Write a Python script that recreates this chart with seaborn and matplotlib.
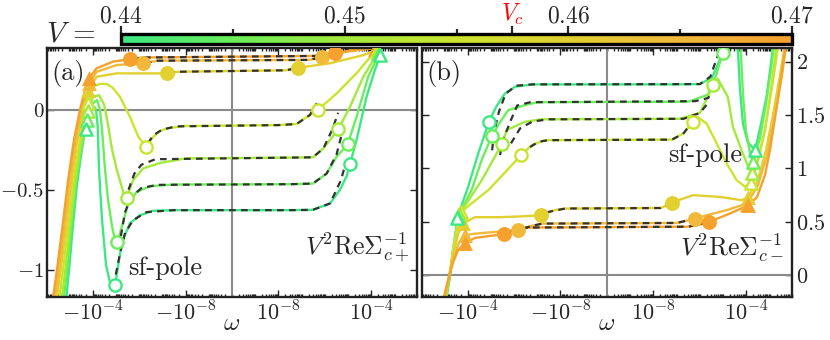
"""
plot.py

V^2 Re Sigma^{-1} for the two channels (c+, c-) against omega on a
two-sided log axis, one curve per hybridisation V, with the colour bar on top.
"""

import numpy as np
import pandas as pd
import matplotlib
matplotlib.use('Agg')
import matplotlib.pyplot as plt
from matplotlib.colors import LinearSegmentedColormap, Normalize
from matplotlib.cm import ScalarMappable
from matplotlib.ticker import FixedLocator
import seaborn as sns


V_VALUES = [0.44, 0.445, 0.45, 0.455, 0.46, 0.465, 0.47]
V_C = 0.4575
V_COLORS = ['#3de884', '#6aee5a', '#a2ea3c', '#cbe42e', '#e2d030', '#f0b93a', '#f6a02e']
CB_MAJOR = [0.44, 0.45, 0.46, 0.47]
CB_MINOR = [0.445, 0.455, 0.465]

# ---- panel (a): V^2 Re Sigma_{c+}^{-1}, (omega, value) per V ----
A_CURVES = [
    [(-10**-2.84, -1.22), (-10**-2.99, -1.0), (-10**-3.14, -0.75), (-10**-3.33, -0.47), (-10**-3.51, -0.28),
     (-10**-3.63, -0.17), (-10**-3.72, -0.124), (-10**-3.9, -0.03), (-10**-4.05, 0.02), (-10**-4.15, 0.0),
     (-10**-4.22, -0.1), (-10**-4.28, -0.378), (-10**-4.41, -0.69), (-10**-4.58, -0.97), (-10**-4.75, -1.078),
     (-10**-4.97, -1.097), (-10**-5.26, -0.83), (-10**-5.61, -0.71), (-10**-6.04, -0.66), (-10**-6.6, -0.632),
     (-10**-7.5, -0.628), (10**-7.5, -0.628), (10**-6.52, -0.626), (10**-5.78, -0.586), (10**-5.35, -0.5),
     (10**-5.07, -0.417), (10**-4.92, -0.34), (10**-4.64, -0.19), (10**-4.21, 0.08), (10**-3.85, 0.247),
     (10**-3.63, 0.34), (10**-3.5, 0.42)],
    [(-10**-2.73, -1.22), (-10**-2.91, -1.0), (-10**-3.08, -0.75), (-10**-3.28, -0.47), (-10**-3.47, -0.28),
     (-10**-3.63, -0.15), (-10**-3.75, -0.066), (-10**-3.98, 0.034), (-10**-4.19, 0.06), (-10**-4.32, 0.0),
     (-10**-4.41, -0.128), (-10**-4.54, -0.378), (-10**-4.67, -0.566), (-10**-4.83, -0.72), (-10**-4.94, -0.8),
     (-10**-5.07, -0.826), (-10**-5.26, -0.73), (-10**-5.54, -0.586), (-10**-5.9, -0.514), (-10**-6.48, -0.478),
     (-10**-7.5, -0.468), (10**-7.5, -0.466), (10**-6.52, -0.462), (10**-5.93, -0.40), (10**-5.5, -0.295),
     (10**-5.02, -0.216), (10**-4.64, -0.045), (10**-4.14, 0.205), (10**-3.68, 0.345), (10**-3.5, 0.43)],
    [(-10**-2.64, -1.22), (-10**-2.83, -1.0), (-10**-3.02, -0.75), (-10**-3.24, -0.46), (-10**-3.45, -0.26),
     (-10**-3.63, -0.11), (-10**-3.79, -0.009), (-10**-4.02, 0.078), (-10**-4.28, 0.09), (-10**-4.5, 0.03),
     (-10**-4.67, -0.097), (-10**-4.84, -0.25), (-10**-5.05, -0.378), (-10**-5.26, -0.484), (-10**-5.35, -0.528),
     (-10**-5.47, -0.549), (-10**-5.75, -0.44), (-10**-6.18, -0.367), (-10**-6.92, -0.333), (-10**-8.0, -0.305),
     (10**-7.5, -0.30), (10**-6.52, -0.298), (10**-6.07, -0.243), (10**-5.43, -0.124), (10**-4.92, 0.018),
     (10**-4.35, 0.205), (10**-3.73, 0.355), (10**-3.55, 0.43)],
    [(-10**-2.53, -1.22), (-10**-2.73, -1.0), (-10**-2.94, -0.75), (-10**-3.17, -0.46), (-10**-3.39, -0.25),
     (-10**-3.6, -0.08), (-10**-3.82, 0.043), (-10**-4.03, 0.145), (-10**-4.32, 0.16), (-10**-4.61, 0.16),
     (-10**-4.88, 0.134), (-10**-5.18, 0.08), (-10**-5.61, -0.045), (-10**-5.97, -0.17), (-10**-6.3, -0.233),
     (-10**-6.62, -0.17), (-10**-6.9, -0.134), (-10**-7.19, -0.118), (-10**-7.91, -0.103), (10**-8.0, -0.097),
     (10**-7.22, -0.09), (10**-6.65, -0.034), (10**-6.29, 0.0), (10**-5.5, 0.1), (10**-4.64, 0.227),
     (10**-3.92, 0.35), (10**-3.78, 0.365), (10**-3.6, 0.43)],
    [(-10**-2.43, -1.22), (-10**-2.63, -1.0), (-10**-2.85, -0.75), (-10**-3.09, -0.45), (-10**-3.32, -0.22),
     (-10**-3.55, -0.05), (-10**-3.7, 0.05), (-10**-3.82, 0.122), (-10**-4.18, 0.205), (-10**-5.04, 0.226),
     (-10**-6.05, 0.226), (-10**-7.19, 0.226), (-10**-7.7, 0.236), (10**-7.7, 0.245), (10**-7.15, 0.261),
     (10**-5.78, 0.289), (10**-4.35, 0.34), (10**-3.8, 0.37), (10**-3.6, 0.40)],
    [(-10**-2.34, -1.22), (-10**-2.55, -1.0), (-10**-2.77, -0.75), (-10**-3.02, -0.44), (-10**-3.26, -0.2),
     (-10**-3.5, -0.02), (-10**-3.7, 0.09), (-10**-3.86, 0.164), (-10**-4.18, 0.236), (-10**-5.04, 0.278),
     (-10**-6.19, 0.289), (-10**-6.8, 0.305), (10**-6.7, 0.31), (10**-6.14, 0.326), (10**-5.07, 0.361),
     (10**-4.06, 0.38), (10**-3.82, 0.385)],
    [(-10**-2.26, -1.22), (-10**-2.47, -1.0), (-10**-2.69, -0.75), (-10**-2.95, -0.44), (-10**-3.2, -0.19),
     (-10**-3.46, 0.0), (-10**-3.68, 0.122), (-10**-3.86, 0.198), (-10**-4.18, 0.258), (-10**-4.9, 0.30),
     (-10**-5.61, 0.314), (-10**-6.2, 0.325), (10**-6.2, 0.335), (10**-5.57, 0.351), (10**-4.64, 0.376),
     (10**-3.84, 0.385)],
]
A_DASHED = [
    [(-10**-5.0, -1.03), (-10**-5.18, -0.9), (-10**-5.4, -0.77), (-10**-5.75, -0.69), (-10**-6.33, -0.64),
     (-10**-7.5, -0.628), (10**-7.5, -0.628), (10**-6.52, -0.626), (10**-5.78, -0.586), (10**-5.31, -0.44),
     (10**-5.1, -0.33)],
    [(-10**-5.22, -0.79), (-10**-5.4, -0.64), (-10**-5.65, -0.55), (-10**-6.1, -0.49), (-10**-6.8, -0.47),
     (10**-7.5, -0.466), (10**-6.52, -0.462), (10**-5.93, -0.40), (10**-5.5, -0.28), (10**-5.2, -0.11)],
    [(-10**-5.55, -0.50), (-10**-5.8, -0.40), (-10**-6.1, -0.345), (-10**-6.7, -0.31), (10**-7.5, -0.30),
     (10**-6.52, -0.298), (10**-6.07, -0.243), (10**-5.7, -0.13), (10**-5.43, -0.02)],
    [(-10**-6.38, -0.21), (-10**-6.62, -0.16), (-10**-7.0, -0.125), (-10**-7.6, -0.105), (10**-8.0, -0.097),
     (10**-7.22, -0.09), (10**-6.65, -0.034), (10**-6.35, 0.04)],
    [(-10**-7.25, 0.228), (-10**-7.7, 0.236), (10**-7.7, 0.245), (10**-7.2, 0.258)],
    [(-10**-6.25, 0.29), (-10**-6.8, 0.305), (10**-6.7, 0.31), (10**-6.2, 0.325)],
    [(-10**-5.7, 0.316), (-10**-6.2, 0.325), (10**-6.2, 0.335), (10**-5.6, 0.35)],
]
A_TRI_L = [(-10**-3.72, -0.124), (-10**-3.75, -0.066), (-10**-3.79, -0.009), (-10**-3.82, 0.043),
           (-10**-3.82, 0.122), (-10**-3.86, 0.164), (-10**-3.86, 0.198)]
A_TRI_R = [(10**-3.63, 0.34), (10**-3.68, 0.345), (10**-3.73, 0.355), (10**-3.78, 0.365),
           (10**-3.8, 0.37), (10**-3.82, 0.375), (10**-3.84, 0.38)]
A_CIR_L = [(-10**-4.97, -1.097), (-10**-5.07, -0.826), (-10**-5.47, -0.549), (-10**-6.3, -0.233),
           (-10**-7.19, 0.226), (-10**-6.19, 0.289), (-10**-5.61, 0.314)]
A_CIR_R = [(10**-4.92, -0.34), (10**-5.02, -0.216), (10**-5.43, -0.124), (10**-6.29, 0.0),
           (10**-7.15, 0.261), (10**-6.14, 0.326), (10**-5.57, 0.351)]

# ---- panel (b): V^2 Re Sigma_{c-}^{-1} ----
B_CURVES = [
    [(-10**-3.08, -0.234), (-10**-3.25, 0.0), (-10**-3.38, 0.234), (-10**-3.51, 0.44), (-10**-3.55, 0.535),
     (-10**-4.03, 0.83), (-10**-4.46, 1.14), (-10**-4.92, 1.437), (-10**-5.24, 1.58), (-10**-5.6, 1.70),
     (-10**-6.04, 1.765), (-10**-6.8, 1.787), (10**-7.0, 1.787), (10**-6.0, 1.79), (10**-5.48, 1.85),
     (10**-5.14, 2.02), (10**-4.88, 2.16), (10**-4.7, 2.4), (10**-4.5, 2.4), (10**-4.37, 2.13),
     (10**-4.28, 1.75), (10**-4.15, 1.42), (10**-3.95, 1.25), (10**-3.63, 1.17), (10**-3.38, 1.41),
     (10**-3.12, 1.69), (10**-2.86, 2.13), (10**-2.73, 2.34)],
    [(-10**-3.06, -0.234), (-10**-3.24, 0.0), (-10**-3.38, 0.234), (-10**-3.53, 0.45), (-10**-3.6, 0.55),
     (-10**-4.18, 0.80), (-10**-4.61, 1.08), (-10**-5.04, 1.30), (-10**-5.32, 1.406), (-10**-5.75, 1.546),
     (-10**-6.47, 1.593), (-10**-7.0, 1.62), (10**-6.5, 1.625), (10**-5.66, 1.69), (10**-5.31, 1.87),
     (10**-5.02, 2.08), (10**-4.85, 2.25), (10**-4.65, 2.4), (10**-4.4, 2.4), (10**-4.25, 2.13),
     (10**-4.15, 1.7), (10**-4.02, 1.35), (10**-3.85, 1.15), (10**-3.72, 1.06), (10**-3.43, 1.27),
     (10**-3.17, 1.59), (10**-2.95, 1.92), (10**-2.78, 2.2), (10**-2.7, 2.34)],
    [(-10**-3.04, -0.234), (-10**-3.23, 0.0), (-10**-3.38, 0.234), (-10**-3.55, 0.46), (-10**-3.64, 0.57),
     (-10**-4.1, 0.72), (-10**-4.61, 0.89), (-10**-5.1, 1.08), (-10**-5.47, 1.228), (-10**-5.69, 1.36),
     (-10**-6.47, 1.437), (-10**-7.19, 1.46), (10**-6.86, 1.465), (10**-6.0, 1.52), (10**-5.43, 1.78),
     (10**-5.23, 1.84), (10**-4.8, 1.67), (10**-4.58, 1.39), (10**-4.21, 1.17), (10**-3.92, 1.015),
     (10**-3.78, 0.953), (10**-3.51, 1.08), (10**-3.2, 1.36), (10**-2.95, 1.73), (10**-2.69, 2.16),
     (10**-2.6, 2.34)],
    [(-10**-3.02, -0.234), (-10**-3.22, 0.0), (-10**-3.38, 0.234), (-10**-3.57, 0.47), (-10**-3.7, 0.59),
     (-10**-4.1, 0.66), (-10**-4.91, 0.80), (-10**-5.77, 1.0), (-10**-6.3, 1.125), (-10**-6.76, 1.218),
     (-10**-7.33, 1.265), (10**-7.2, 1.27), (10**-6.7, 1.33), (10**-6.29, 1.437), (10**-6.09, 1.48),
     (10**-5.71, 1.42), (10**-5.28, 1.234), (10**-4.85, 1.047), (10**-4.42, 0.89), (10**-4.06, 0.83),
     (10**-3.82, 0.86), (10**-3.55, 1.03), (10**-3.25, 1.31), (10**-2.95, 1.69), (10**-2.69, 2.06),
     (10**-2.52, 2.34)],
    [(-10**-3.0, -0.234), (-10**-3.2, -0.02), (-10**-3.38, 0.19), (-10**-3.6, 0.39), (-10**-3.81, 0.485),
     (-10**-4.32, 0.544), (-10**-5.4, 0.544), (-10**-6.47, 0.553), (-10**-7.16, 0.562), (-10**-7.76, 0.61),
     (-10**-8.2, 0.625), (10**-7.7, 0.63), (10**-7.4, 0.655), (10**-7.22, 0.681), (10**-6.3, 0.75),
     (10**-5.14, 0.734), (10**-4.2, 0.703), (10**-3.92, 0.734), (10**-3.51, 0.89), (10**-3.16, 1.17),
     (10**-2.86, 1.5), (10**-2.56, 1.87), (10**-2.34, 2.16), (10**-2.22, 2.34)],
    [(-10**-2.98, -0.234), (-10**-3.18, -0.035), (-10**-3.38, 0.15), (-10**-3.62, 0.30), (-10**-3.89, 0.375),
     (-10**-4.32, 0.39), (-10**-5.4, 0.41), (-10**-6.16, 0.42), (-10**-6.69, 0.46), (-10**-7.2, 0.484),
     (10**-7.0, 0.49), (10**-6.6, 0.51), (10**-6.22, 0.531), (10**-5.57, 0.57), (10**-4.85, 0.61),
     (10**-3.97, 0.672), (10**-3.51, 0.84), (10**-3.12, 1.12), (10**-2.77, 1.5), (10**-2.47, 1.87),
     (10**-2.26, 2.2), (10**-2.17, 2.34)],
    [(-10**-2.95, -0.234), (-10**-3.16, -0.047), (-10**-3.38, 0.122), (-10**-3.59, 0.234), (-10**-3.89, 0.30),
     (-10**-4.32, 0.35), (-10**-5.18, 0.375), (-10**-5.59, 0.39), (-10**-6.04, 0.43), (-10**-6.6, 0.447),
     (10**-6.5, 0.455), (10**-6.0, 0.475), (10**-5.6, 0.5), (10**-4.71, 0.578), (10**-3.92, 0.656),
     (10**-3.55, 0.73), (10**-3.2, 0.94), (10**-2.99, 1.17), (10**-2.65, 1.64), (10**-2.34, 2.11),
     (10**-2.13, 2.39)],
]
B_DASHED = [
    [(-10**-5.06, 1.17), (-10**-5.13, 1.33), (-10**-5.35, 1.53), (-10**-5.64, 1.70), (-10**-6.1, 1.775),
     (-10**-6.8, 1.787), (10**-6.0, 1.79), (10**-5.55, 1.86), (10**-5.28, 2.03), (10**-5.14, 2.1)],
    [(-10**-5.4, 1.125), (-10**-5.5, 1.25), (-10**-5.86, 1.45), (-10**-6.14, 1.59), (-10**-6.7, 1.62),
     (10**-6.2, 1.63), (10**-5.64, 1.66), (10**-5.5, 1.72), (10**-5.42, 1.77)],
    [(-10**-5.87, 1.235), (-10**-6.26, 1.375), (-10**-6.8, 1.44), (-10**-7.5, 1.46), (10**-6.7, 1.465),
     (10**-6.0, 1.52), (10**-5.7, 1.6)],
    [(-10**-6.69, 1.2), (-10**-7.05, 1.25), (-10**-7.5, 1.265), (10**-7.2, 1.27), (10**-6.7, 1.33),
     (10**-6.5, 1.39)],
    [(-10**-7.4, 0.59), (-10**-8.2, 0.625), (10**-7.7, 0.63), (10**-7.3, 0.67)],
    [(-10**-6.4, 0.44), (-10**-7.2, 0.484), (10**-7.0, 0.49), (10**-6.4, 0.52)],
    [(-10**-5.8, 0.41), (-10**-6.6, 0.447), (10**-6.5, 0.455), (10**-5.8, 0.49)],
]
B_TRI_L = [(-10**-3.55, 0.535), (-10**-3.6, 0.55), (-10**-3.64, 0.57), (-10**-3.7, 0.59),
           (-10**-3.81, 0.485), (-10**-3.89, 0.375), (-10**-3.89, 0.30)]
B_TRI_R = [(10**-3.63, 1.17), (10**-3.72, 1.06), (10**-3.78, 0.953), (10**-3.82, 0.86),
           (10**-3.92, 0.734), (10**-3.97, 0.672), (10**-3.92, 0.656)]
B_CIR_L = [(-10**-4.92, 1.437), (-10**-5.04, 1.30), (-10**-5.47, 1.228), (-10**-6.3, 1.125),
           (-10**-7.16, 0.562), (-10**-6.16, 0.42), (-10**-5.59, 0.39)]
B_CIR_R = [(10**-4.85, 2.25), (10**-5.02, 2.08), (10**-5.43, 1.78), (10**-6.29, 1.437),
           (10**-7.22, 0.681), (10**-6.22, 0.531), (10**-5.6, 0.5)]

X_MAJOR = [-1e-4, -1e-8, 1e-8, 1e-4]
X_LABELS = [r'$-10^{-4}$', r'$-10^{-8}$', r'$10^{-8}$', r'$10^{-4}$']
A_YTICKS = [-1, -0.5, 0]
A_YLABELS = [r'$-1$', r'$-0.5$', r'$0$']
B_YTICKS = [0, 0.5, 1, 1.5, 2]
B_YLABELS = [r'$0$', r'$0.5$', r'$1$', r'$1.5$', r'$2$']


def fwd(w):
    # two-sided log: decades above 1e-10, mirrored for omega < 0
    w = np.asarray(w, dtype=float)
    with np.errstate(divide='ignore', invalid='ignore'):
        m = np.log10(np.abs(w)) + 10
    m = np.where(np.isfinite(m), np.clip(m, 0, None), 0)
    return np.sign(w) * m


def inv(u):
    u = np.asarray(u, dtype=float)
    return np.sign(u) * 10.0 ** (np.abs(u) - 10)


def to_frame(curves):
    rows = [(k, w, y) for k, pts in enumerate(curves) for w, y in pts]
    return pd.DataFrame(rows, columns=['k', 'w', 'y'])


def draw_panel(ax, curves, dashed, tri_l, tri_r, cir_l, cir_r, ylim):
    ax.set_xscale('function', functions=(fwd, inv))
    ax.axhline(0, color='#8a8a8a', lw=1.5, zorder=1)
    ax.axvline(0, color='#8a8a8a', lw=1.5, zorder=1)

    palette = dict(enumerate(V_COLORS))
    sns.lineplot(data=to_frame(curves), x='w', y='y', hue='k', palette=palette,
                 sort=False, estimator=None, lw=1.7, legend=False, ax=ax, zorder=2)
    sns.lineplot(data=to_frame(dashed), x='w', y='y', units='k', estimator=None,
                 sort=False, color='#333333', lw=1.6, linestyle=(0, (3.0, 2.4)),
                 legend=False, ax=ax, zorder=3)

    for marker, pts in (('^', tri_l), ('^', tri_r), ('o', cir_l), ('o', cir_r)):
        for k, (w, y) in enumerate(pts):
            if V_VALUES[k] < V_C:
                ax.scatter(w, y, marker=marker, s=78, facecolor='white',
                           edgecolor=V_COLORS[k], linewidth=1.7, zorder=6 - k * 0.01)
            else:
                ax.scatter(w, y, marker=marker, s=115, color=V_COLORS[k],
                           linewidth=0, zorder=5)

    ax.set_xlim(-10**-2.04, 10**-2.04)
    ax.set_ylim(*ylim)
    ax.xaxis.set_major_locator(FixedLocator(X_MAJOR))
    ax.set_xticklabels(X_LABELS)
    minors = [s * k * 10.0**n for s in (-1, 1) for n in range(-10, -2) for k in range(1, 10)]
    ax.xaxis.set_minor_locator(FixedLocator(minors))
    ax.tick_params(which='both', direction='in', top=True, right=True, bottom=True, left=True,
                   width=1.0, color='#222222', labelsize=16)
    ax.tick_params(which='major', length=5)
    ax.tick_params(which='minor', length=2.5)
    ax.tick_params(axis='y', which='minor', left=False, right=False)
    ax.tick_params(axis='x', pad=2.5)
    ax.set_xlabel(r'$\omega$', fontsize=18, labelpad=-8)
    ax.set_ylabel('')
    for sp in ax.spines.values():
        sp.set_linewidth(1.7)
        sp.set_color('#222222')


def main():
    sns.set_theme(style='ticks')
    plt.rcParams['font.family'] = ['serif']
    plt.rcParams['font.serif'] = ['cmr10', 'DejaVu Serif']
    plt.rcParams['mathtext.fontset'] = 'cm'
    plt.rcParams['axes.unicode_minus'] = False

    fig = plt.figure(figsize=(8.3, 3.4), dpi=100)
    ax_a = fig.add_axes([0.0566, 0.1265, 0.4458, 0.7315])
    ax_b = fig.add_axes([0.5084, 0.1265, 0.4458, 0.7315])
    cax = fig.add_axes([0.1458, 0.8706, 0.8084, 0.0294])

    draw_panel(ax_a, A_CURVES, A_DASHED, A_TRI_L, A_TRI_R, A_CIR_L, A_CIR_R, (-1.17, 0.3825))
    ax_a.set_yticks(A_YTICKS, A_YLABELS)
    ax_a.tick_params(axis='y', labelleft=True, labelright=False, pad=2, labelsize=15)

    draw_panel(ax_b, B_CURVES, B_DASHED, B_TRI_L, B_TRI_R, B_CIR_L, B_CIR_R, (-0.203, 2.125))
    ax_b.set_yticks(B_YTICKS, B_YLABELS)
    ax_b.tick_params(axis='y', labelleft=False, labelright=True, pad=3)

    txt = dict(fontsize=19, family='cmr10')
    ax_a.text(0.012, 0.9, '(a)', transform=ax_a.transAxes, va='center', **txt)
    ax_a.text(0.319, 0.116, 'sf-pole', transform=ax_a.transAxes, ha='center', va='center', **txt)
    ax_a.text(0.978, 0.2, r'$V^2\mathrm{Re}\Sigma_{c+}^{-1}$', transform=ax_a.transAxes,
              ha='right', va='center', fontsize=18.5)
    ax_b.text(0.012, 0.9, '(b)', transform=ax_b.transAxes, va='center', **txt)
    ax_b.text(0.765, 0.57, 'sf-pole', transform=ax_b.transAxes, ha='center', va='center', **txt)
    ax_b.text(0.978, 0.2, r'$V^2\mathrm{Re}\Sigma_{c-}^{-1}$', transform=ax_b.transAxes,
              ha='right', va='center', fontsize=18.5)

    # colour bar for V
    nodes = [(v - V_VALUES[0]) / (V_VALUES[-1] - V_VALUES[0]) for v in V_VALUES]
    cmap = LinearSegmentedColormap.from_list('vmap', list(zip(nodes, V_COLORS)))
    norm = Normalize(V_VALUES[0], V_VALUES[-1])
    cb = fig.colorbar(ScalarMappable(norm=norm, cmap=cmap), cax=cax, orientation='horizontal')
    cb.outline.set_linewidth(2.4)
    cb.outline.set_edgecolor('black')
    cax.xaxis.set_ticks_position('top')
    majors = CB_MAJOR[:2] + [V_C] + CB_MAJOR[2:]
    labels = [r'$0.44$', r'$0.45$', r'$V_c$', r'$0.46$', r'$0.47$']
    cb.set_ticks(majors, labels=labels)
    cax.xaxis.set_minor_locator(FixedLocator(CB_MINOR))
    cax.tick_params(axis='x', which='both', direction='out', top=True, bottom=False,
                    labeltop=True, labelbottom=False, width=1.6, labelsize=17, pad=-1)
    cax.tick_params(axis='x', which='major', length=6)
    cax.tick_params(axis='x', which='minor', length=3.5)
    for t, v in zip(cax.xaxis.get_major_ticks(), majors):
        if v == V_C:
            t.tick2line.set_color('red')
            t.label2.set_color('red')
        else:
            t.tick2line.set_color(cmap(norm(v)))
    for t, v in zip(cax.xaxis.get_minor_ticks(), CB_MINOR):
        t.tick2line.set_color(cmap(norm(v)))
    fig.text(0.056, 0.9, r'$V\,=$', fontsize=21, va='center', ha='left')

    fig.savefig('out.png', dpi=100)
    plt.close(fig)


if __name__ == '__main__':
    main()
